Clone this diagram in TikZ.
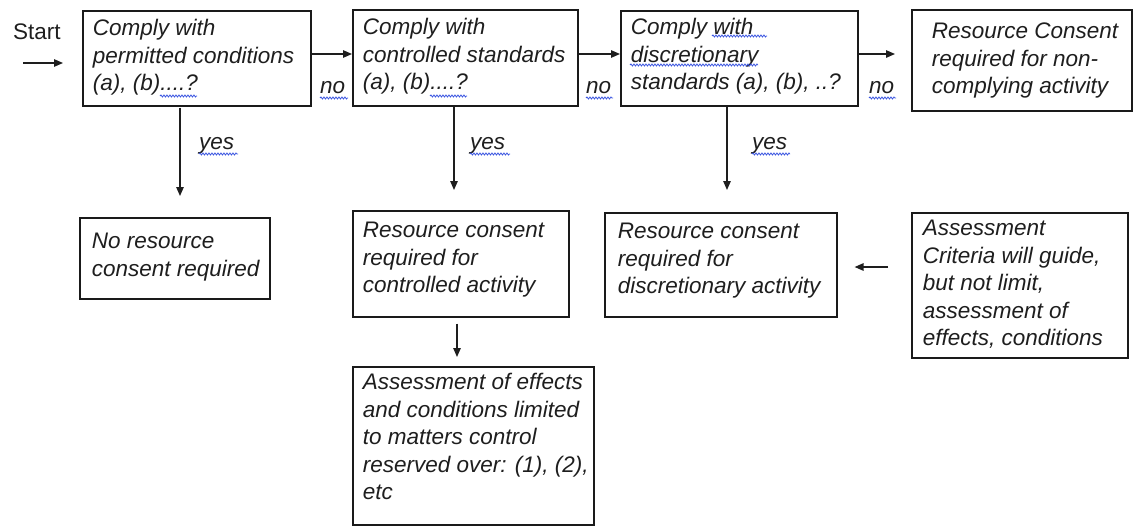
\documentclass[tikz,border=0pt]{standalone}
\usepackage{fontspec}
\setmainfont{Liberation Sans}
\usetikzlibrary{arrows.meta,decorations.pathmorphing}
\definecolor{boxc}{HTML}{1A1A1A}
\definecolor{arrc}{HTML}{1E1E1E}
\definecolor{txtc}{HTML}{1E1E1E}
\definecolor{spell}{HTML}{3A55E0}
\newcommand{\dfont}{\fontsize{22.5}{27.5}\selectfont}
% width, height, left inset, top pad, text
\newcommand{\tbx}[5]{\parbox[c][#2pt][t]{#1pt}{\raggedright\leftskip=#3pt\relax\vspace*{#4pt}\rule{0pt}{18pt}#5}}
\tikzset{
  box/.style={draw=boxc, line width=1.6pt, inner sep=0pt, anchor=north west,
              font=\dfont\itshape, text=txtc},
  arr/.style={draw=arrc, line width=1.3pt, -{Triangle[length=9pt,width=7.5pt]}},
  lab/.style={anchor=base west, inner sep=0pt, font=\dfont\itshape, text=txtc},
  wavy/.style={draw=spell, line width=0.8pt, decorate,
               decoration={snake, amplitude=1pt, segment length=3pt}}
}
\begin{document}
\begin{tikzpicture}[x=1pt,y=-1pt]
\useasboundingbox (0,0) rectangle (1133,525);

% top row
\node[box, minimum width=228pt, minimum height=95pt] (b1) at (82,10)
  {\tbx{228}{95}{10}{7}{Comply with\\permitted conditions\\(a), (b)....?}};
\node[box, minimum width=225pt, minimum height=96pt] (b2) at (352,9)
  {\tbx{225}{96}{10}{7}{Comply with\\controlled standards\\(a), (b)....?}};
\node[box, minimum width=237pt, minimum height=95pt] (b3) at (620,10)
  {\tbx{237}{95}{10}{6}{Comply with\\discretionary\\standards (a), (b), ..?}};
\node[box, minimum width=220pt, minimum height=101pt] (b4) at (911,9)
  {\tbx{220}{101}{20}{11}{Resource Consent\\required for non-\\complying activity}};

% second row
\node[box, minimum width=190pt, minimum height=81pt] (b5) at (79,217)
  {\tbx{190}{81}{12}{13}{No resource\\consent required}};
\node[box, minimum width=216pt, minimum height=106pt] (b6) at (352,210)
  {\tbx{216}{106}{10}{9}{Resource consent\\required for\\controlled activity}};
\node[box, minimum width=232pt, minimum height=104pt] (b7) at (604,212)
  {\tbx{232}{104}{13}{8}{Resource consent\\required for\\discretionary activity}};
\node[box, minimum width=216pt, minimum height=145pt] (b8) at (911,212)
  {\tbx{216}{145}{11}{5}{Assessment\\Criteria will guide,\\but not limit,\\assessment of\\effects, conditions}};

% third row
\node[box, minimum width=241pt, minimum height=158pt] (b9) at (352,366)
  {\tbx{241}{158}{10}{5}{Assessment of effects\\and conditions limited\\to matters control\\reserved over: (1), (2),\\etc}};

% labels
\node[anchor=base west, inner sep=0pt, font=\dfont, text=txtc] (st) at (13,39) {Start};
\node[lab] (no1) at (320,93) {no};
\node[lab] (no2) at (586,93) {no};
\node[lab] (no3) at (869,93) {no};
\node[lab] (yes1) at (199,149) {yes};
\node[lab] (yes2) at (470,149) {yes};
\node[lab] (yes3) at (752,149) {yes};

% connectors
\coordinate (s0) at (23,63);
\coordinate (row) at (0,54);
\draw[arr, shorten >=19pt] (s0) -- (s0 -| b1.west);
\draw[arr] (b1.east |- row) -- (b2.west |- row);
\draw[arr] (b2.east |- row) -- (b3.west |- row);
\draw[arr, shorten >=16pt] (b3.east |- row) -- (b4.west |- row);

\coordinate (c1) at (180,0);
\coordinate (c2) at (454,0);
\coordinate (c3) at (727,0);
\coordinate (c6) at (457,0);
\draw[arr, shorten >=21pt, shorten <=1pt] (b1.south -| c1) -- (b5.north -| c1);
\draw[arr, shorten >=20pt] (b2.south -| c2) -- (b6.north -| c2);
\draw[arr, shorten >=22pt] (b3.south -| c3) -- (b7.north -| c3);
\draw[arr, shorten <=6pt, shorten >=9pt] (b6.south -| c6) -- (b9.north -| c6);
\coordinate (r8) at (0,267);
\draw[arr, shorten <=23pt, shorten >=17pt] (b8.west |- r8) -- (b7.east |- r8);

% spell-check underlines
\draw[wavy] (160,96) -- (197,96);
\draw[wavy] (430,96) -- (467,96);
\draw[wavy] (320,98) -- (348,98);
\draw[wavy] (586,98) -- (613,98);
\draw[wavy] (869,98) -- (896,98);
\draw[wavy] (199,154) -- (238,154);
\draw[wavy] (470,154) -- (510,154);
\draw[wavy] (752,154) -- (790,154);
\draw[wavy] (712,36) -- (767,36);
\draw[wavy] (630,65) -- (758,65);
\end{tikzpicture}
\end{document}
